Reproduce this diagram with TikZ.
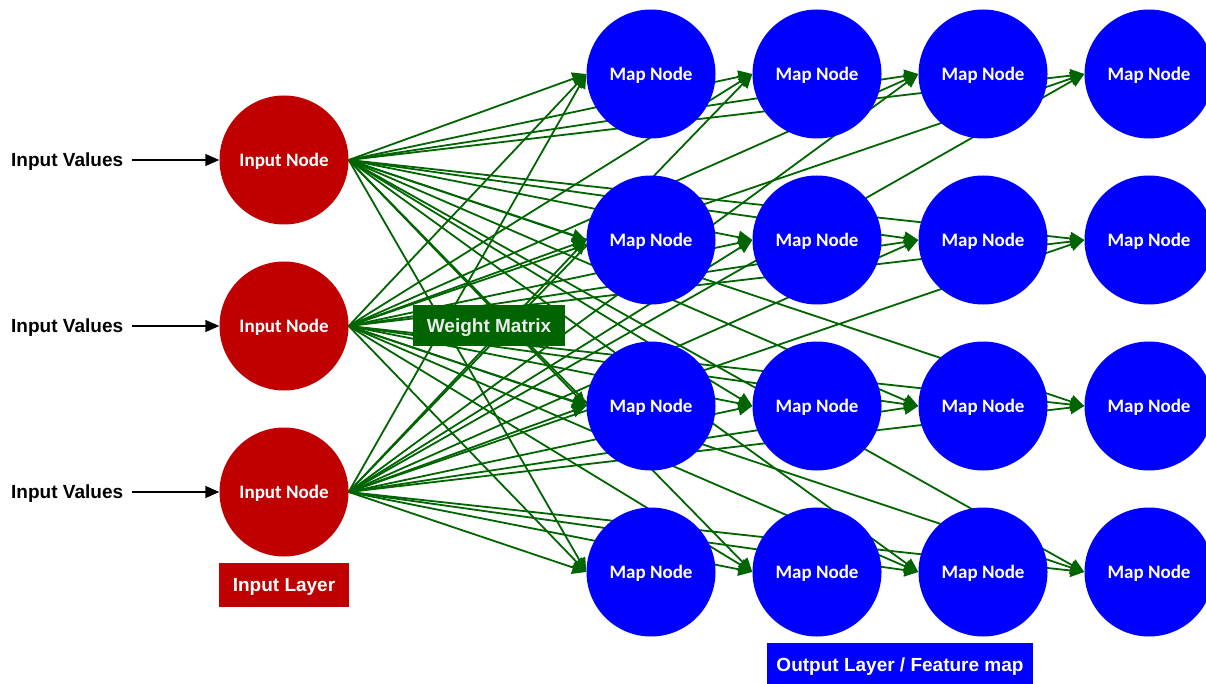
\documentclass[tikz,border=0pt]{standalone}
\usepackage{fontspec}
\setmainfont{Liberation Sans}
\newfontfamily\calib{Carlito}
\usetikzlibrary{arrows.meta}
\pgfdeclarelayer{back}
\pgfdeclarelayer{bg}
\pgfsetlayers{back,bg,main}
\definecolor{inred}{HTML}{C00000}
\definecolor{mapblue}{HTML}{0000FF}
\definecolor{wgreen}{HTML}{006400}
\begin{document}
\begin{tikzpicture}[x=1pt,y=-1pt,
  innode/.style={circle,fill=inred,minimum size=129pt,inner sep=0pt,text=white,text depth=0pt,
    font=\calib\bfseries\fontsize{19}{22}\selectfont},
  mapnode/.style={circle,fill=mapblue,minimum size=129pt,inner sep=0pt,text=white,text depth=0pt,
    font=\calib\bfseries\fontsize{19}{22}\selectfont},
  valtext/.style={anchor=west,inner ysep=0pt,inner xsep=9pt,text depth=0pt,
    font=\bfseries\fontsize{19}{22}\selectfont},
  boxlbl/.style={inner sep=0pt,text=white,text depth=0pt,font=\bfseries\fontsize{19}{22}\selectfont},
  feed/.style={draw=black,line width=1.6pt,-{Triangle[length=14pt,width=12pt]}},
  wire/.style={draw=wgreen,line width=1.8pt,-{Triangle[length=14pt,width=13pt]}}
]
\useasboundingbox (0,0) rectangle (1206,684);
\begin{pgfonlayer}{back}
\fill[white] (0,0) rectangle (1206,684);
\end{pgfonlayer}

% input nodes
\foreach \i/\y in {1/160,2/326,3/492}{
  \node[innode] (in\i) at (284,\y) {Input Node};
  \node[valtext] (iv\i) at (2,\y) {Input Values};
  \draw[feed] (iv\i.east) -- (in\i.west);
}

% map nodes
\foreach \r/\y in {1/74,2/240,3/406,4/572}{
  \foreach \c/\x in {1/651,2/817,3/983,4/1149}{
    \node[mapnode] (m\r\c) at (\x,\y) {Map Node};
  }
}

% weight matrix label
\node[boxlbl,fill=wgreen,minimum width=152pt,minimum height=41pt,text=white!92!black] (wm) at (489,325.5) {Weight Matrix};

% layer labels
\node[boxlbl,fill=inred,minimum width=130pt,minimum height=44pt] (il) at (284,585) {Input Layer};
\node[boxlbl,fill=mapblue,minimum width=266pt,minimum height=43pt] (ol) at (900,664.5) {Output Layer / Feature map};

% connections
\begin{pgfonlayer}{bg}
\foreach \i in {1,2,3}{
  \foreach \r in {1,2,3,4}{
    \foreach \c in {1,2,3,4}{
      \draw[wire] (in\i.east) -- (m\r\c.west);
    }
  }
}
\end{pgfonlayer}
\end{tikzpicture}
\end{document}
